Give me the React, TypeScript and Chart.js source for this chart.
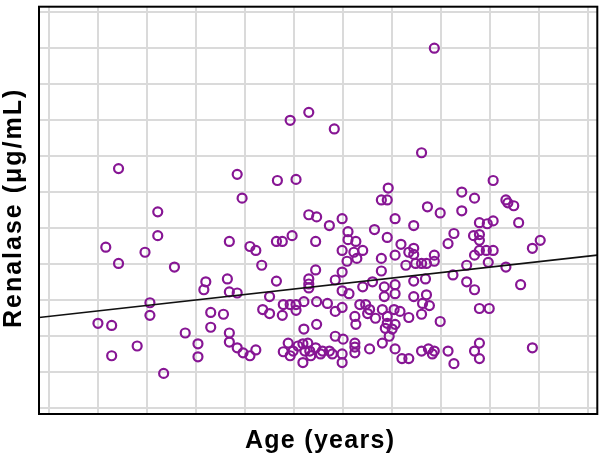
import React, { useEffect, useRef } from "react";
import { Chart, registerables } from "chart.js";

Chart.register(...registerables);

const ageYears = [
  27.1, 39.2, 39.7, 31.1, 31.1, 25.8, 29.8, 27.1, 32.8, 38.4,
  36.0, 35.8, 38.2, 38.4, 39.2, 30.3, 30.3, 25.0, 26.4, 36.5,
  37.8, 36.5, 33.9, 38.4, 38.4, 39.2, 35.2, 35.2, 29.0, 26.4,
  31.7, 59.3, 46.5, 44.6, 49.1, 58.0, 43.3, 45.2, 46.5, 47.3,
  48.6, 49.9, 50.5, 53.2, 43.2, 43.8, 44.8, 47.2, 50.5, 51.3,
  40.5, 41.1, 49.9, 51.1, 52.0, 51.4, 50.4, 53.9, 41.7, 47.2,
  49.9, 53.9, 53.9, 54.5, 54.6, 43.2, 46.5, 46.5, 46.5, 49.2,
  53.0, 52.0, 42.5, 49.9, 50.6, 41.8, 42.5, 43.9, 44.6, 45.2,
  43.8, 45.2, 46.0, 47.3, 48.4, 49.2, 49.9, 51.7, 52.3, 52.7,
  51.2, 51.3, 52.5, 53.3, 46.0, 47.3, 49.2, 50.0, 51.2, 51.2,
  51.2, 52.7, 39.8, 40.5, 41.1, 43.9, 44.4, 44.9, 45.4, 45.9,
  46.4, 46.1, 46.6, 45.9, 44.6, 47.2, 47.7, 48.6, 48.9, 49.9,
  49.9, 47.9, 46.7, 65.3, 62.1, 63.4, 66.6, 66.8, 67.4, 58.6,
  59.9, 62.1, 55.3, 57.2, 63.9, 64.7, 65.3, 67.9, 54.5, 61.3,
  60.7, 63.3, 63.9, 63.9, 55.9, 57.2, 57.2, 56.7, 55.3, 56.4,
  57.4, 58.0, 58.5, 59.3, 59.3, 63.9, 64.6, 65.3, 63.4, 62.6,
  64.8, 66.6, 69.3, 70.1, 61.2, 58.4, 57.2, 62.6, 63.4, 68.1,
  54.2, 55.3, 55.3, 54.2, 57.2, 58.5, 58.1, 58.8, 63.9, 64.9,
  54.0, 55.2, 55.8, 54.5, 56.7, 58.0, 54.5, 55.3, 54.3, 55.0,
  59.9, 54.0, 54.7, 55.3, 56.0, 56.7, 58.0, 58.7, 59.3, 60.7,
  61.3, 63.4, 63.9, 63.9, 69.3, 59.1,
];

const renalaseValues = [
  66.5, 64.9, 58.3, 54.5, 47.9, 44.7, 43.3, 40.2, 39.2, 46.3,
  35.1, 32.9, 35.9, 32.3, 32.0, 29.3, 25.8, 23.6, 23.0, 26.6,
  26.1, 22.5, 20.9, 20.9, 18.4, 16.8, 17.9, 14.3, 17.3, 14.6,
  9.7, 99.9, 82.1, 79.9, 77.5, 70.9, 63.2, 63.5, 53.7, 53.1,
  50.7, 52.6, 49.0, 49.6, 46.3, 46.3, 47.9, 46.3, 46.8, 46.3,
  44.9, 43.8, 43.8, 43.3, 43.8, 41.6, 40.8, 41.6, 39.7, 38.4,
  37.8, 38.1, 57.8, 57.8, 61.1, 35.3, 35.9, 34.5, 33.4, 35.6,
  35.1, 33.7, 31.0, 32.6, 31.8, 27.4, 26.3, 28.8, 28.8, 28.8,
  25.8, 27.2, 29.6, 29.6, 29.1, 26.9, 28.0, 28.8, 28.8, 27.4,
  25.5, 23.3, 26.3, 25.0, 22.0, 23.3, 20.0, 19.2, 18.1, 17.0,
  15.4, 16.5, 15.4, 14.6, 16.2, 15.7, 18.1, 15.9, 17.3, 17.9,
  18.1, 15.9, 15.9, 12.7, 14.6, 16.8, 15.1, 15.9, 15.1, 15.1,
  12.7, 15.9, 14.6, 63.2, 60.0, 58.3, 57.8, 57.0, 56.2, 55.9,
  54.2, 54.8, 52.6, 50.7, 51.5, 51.2, 52.0, 51.5, 47.4, 48.5,
  45.7, 47.9, 48.2, 46.6, 45.5, 44.4, 42.7, 43.3, 42.5, 39.7,
  40.2, 40.2, 40.2, 42.5, 40.8, 43.8, 43.8, 43.8, 42.5, 39.7,
  40.5, 39.2, 44.4, 46.6, 37.0, 35.9, 35.3, 35.1, 32.9, 34.3,
  33.7, 34.3, 31.8, 31.0, 31.0, 31.5, 29.1, 28.5, 27.7, 27.7,
  27.4, 27.4, 26.9, 25.5, 25.2, 26.1, 23.6, 23.3, 22.2, 22.0,
  24.1, 18.1, 20.0, 16.5, 13.8, 13.8, 15.9, 16.5, 15.9, 15.9,
  12.4, 15.9, 18.1, 13.8, 16.8, 15.1,
];

// Regression line endpoints (at the plot's left and right edges)
const fitAge = [18.99, 75.92];
const fitRenalase = [25.2, 42.5];

// Grid positions (no tick labels are shown)
const ageGrid = [20, 25, 30, 35, 40, 45, 50, 55, 60, 65, 70, 75];
const renalaseGrid = [0, 10, 20, 30, 40, 50, 60, 70, 80, 90, 100, 110];
const ageRange = [18.99, 75.92];
const renalaseRange = [-1.56, 111.4];

const xTitle = "Age (years)";
const yTitle = "Renalase (\u03bcg/mL)";

export default function App() {
  const canvasRef = useRef<HTMLCanvasElement | null>(null);

  useEffect(() => {
    if (!canvasRef.current) return;

    const framePlugin = {
      id: "frameAndTitles",
      afterDatasetsDraw(chart: any) {
        const { ctx, chartArea: a } = chart;
        ctx.save();
        ctx.strokeStyle = "#000";
        ctx.lineWidth = 2;
        ctx.strokeRect(a.left, a.top, a.right - a.left, a.bottom - a.top);
        ctx.restore();
      },
      afterDraw(chart: any) {
        const { ctx, chartArea: a } = chart;
        ctx.save();
        ctx.fillStyle = "#000";
        ctx.font = 'bold 25px "Liberation Sans", Arial, sans-serif';
        ctx.textAlign = "center";
        ctx.textBaseline = "alphabetic";
        (ctx as any).letterSpacing = "1.3px";
        ctx.fillText(xTitle, (a.left + a.right) / 2 + 2, 448);
        ctx.restore();

        ctx.save();
        ctx.fillStyle = "#000";
        ctx.font = 'bold 25px "Liberation Sans", Arial, sans-serif';
        ctx.textAlign = "center";
        ctx.textBaseline = "alphabetic";
        (ctx as any).letterSpacing = "2px";
        ctx.translate(21, (a.top + a.bottom) / 2 - 2.5);
        ctx.rotate(-Math.PI / 2);
        ctx.fillText(yTitle, 0, 0);
        ctx.restore();
      },
    };

    const gridOpts = { color: "#dadada", lineWidth: 2, drawTicks: false };

    const chart = new Chart(canvasRef.current, {
      type: "scatter",
      data: {
        datasets: [
          {
            type: "line",
            data: fitAge.map((x, i) => ({ x, y: fitRenalase[i] })),
            borderColor: "#111111",
            borderWidth: 1.7,
            pointRadius: 0,
            fill: false,
            showLine: true,
          } as any,
          {
            data: ageYears.map((x, i) => ({ x, y: renalaseValues[i] })),
            pointStyle: "circle",
            pointRadius: 4.5,
            pointBorderWidth: 2.2,
            borderWidth: 2.2,
            borderColor: "rgb(135, 22, 148)",
            pointBorderColor: "rgb(135, 22, 148)",
            backgroundColor: "rgba(0,0,0,0)",
            pointBackgroundColor: "rgba(0,0,0,0)",
          } as any,
        ],
      },
      options: {
        animation: false,
        responsive: true,
        maintainAspectRatio: false,
        events: [],
        layout: { padding: { left: 0, top: 1, right: 2, bottom: 0 } },
        plugins: {
          legend: { display: false },
          tooltip: { enabled: false },
        },
        scales: {
          x: {
            type: "linear",
            min: ageRange[0],
            max: ageRange[1],
            afterBuildTicks: (s: any) => {
              s.ticks = ageGrid.map((v) => ({ value: v }));
            },
            afterFit: (s: any) => {
              s.height = 42;
            },
            ticks: { display: false },
            grid: gridOpts,
            border: { display: false },
            title: { display: false },
          },
          y: {
            type: "linear",
            min: renalaseRange[0],
            max: renalaseRange[1],
            afterBuildTicks: (s: any) => {
              s.ticks = renalaseGrid.map((v) => ({ value: v }));
            },
            afterFit: (s: any) => {
              s.width = 39;
            },
            ticks: { display: false },
            grid: gridOpts,
            border: { display: false },
            title: { display: false },
          },
        },
      } as any,
      plugins: [framePlugin],
    });

    return () => chart.destroy();
  }, []);

  return (
    <div
      style={{
        position: "fixed",
        left: 0,
        top: 0,
        width: 604,
        height: 456,
        background: "#fff",
      }}
    >
      <canvas ref={canvasRef} style={{ display: "block" }} />
    </div>
  );
}
